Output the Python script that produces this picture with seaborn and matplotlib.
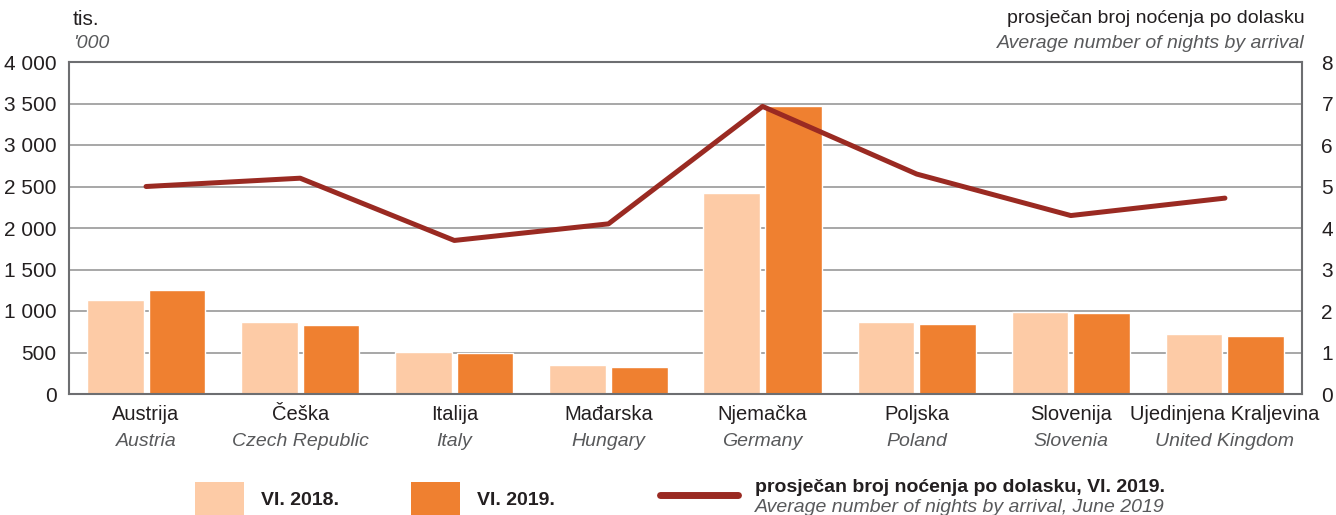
import matplotlib
matplotlib.use('Agg')
import matplotlib.pyplot as plt
import matplotlib.ticker as ticker
import matplotlib.transforms as mtransforms
from matplotlib.patches import Patch
from matplotlib.lines import Line2D
import seaborn as sns
import pandas as pd

countries_hr = ['Austrija', 'Češka', 'Italija', 'Mađarska', 'Njemačka', 'Poljska', 'Slovenija', 'Ujedinjena Kraljevina']
countries_en = ['Austria', 'Czech Republic', 'Italy', 'Hungary', 'Germany', 'Poland', 'Slovenia', 'United Kingdom']
nights_2018 = [1130, 862, 505, 347, 2420, 865, 987, 717]
nights_2019 = [1250, 826, 500, 328, 3475, 840, 975, 702]
avg_nights_2019 = [5.0, 5.2, 3.7, 4.1, 6.93, 5.3, 4.3, 4.72]
periods = ['VI. 2018.', 'VI. 2019.']

light = '#FDCBA6'
dark = '#EF8030'
line_col = '#9A2A22'
text_col = '#231F20'
grey_txt = '#58595B'
fs = 14

sns.set_theme(style='white')
plt.rcParams['font.family'] = ['Liberation Sans', 'DejaVu Sans']

df = pd.DataFrame({
    'country': countries_hr * 2,
    'value': nights_2018 + nights_2019,
    'period': [periods[0]] * len(countries_hr) + [periods[1]] * len(countries_hr),
})
line_df = pd.DataFrame({'country': countries_hr, 'avg': avg_nights_2019})

fig = plt.figure(figsize=(13.36, 5.15), dpi=100)
ax = fig.add_axes([69 / 1336, 1 - 394 / 515, (1302 - 69) / 1336, (394 - 62) / 515])

sns.barplot(data=df, x='country', y='value', hue='period', palette=[light, dark],
            width=0.8, gap=0.08, ax=ax, legend=False, saturation=1)
ax.set_ylim(0, 4000)
ax.set_xlim(-0.5, len(countries_hr) - 0.5)
ax.set_yticks(range(0, 4001, 500))
ax.yaxis.set_major_formatter(ticker.FuncFormatter(lambda v, p: f'{int(v):,}'.replace(',', ' ')))
ax.yaxis.grid(True, color='#A0A0A0', linewidth=1.3)
ax.set_axisbelow(True)
ax.set_xlabel('')
ax.set_ylabel('')
ax.tick_params(axis='y', labelsize=fs + 1, colors=text_col, pad=9, length=0)
ax.tick_params(axis='x', labelsize=fs + 0.5, colors=text_col, pad=8, length=0)
ax.set_xticks(range(len(countries_hr)))
ax.set_xticklabels(countries_hr)
for s in ax.spines.values():
    s.set_color('#6D6E71')
    s.set_linewidth(1.5)

ax2 = ax.twinx()
sns.lineplot(data=line_df, x=line_df.index, y='avg', ax=ax2, color=line_col, linewidth=3.6, sort=False)
ax2.set_ylim(0, 8)
ax2.set_yticks(range(0, 9))
ax2.set_ylabel('')
ax2.tick_params(axis='y', labelsize=fs + 1, colors=text_col, pad=14, length=0)
for s in ax2.spines.values():
    s.set_visible(False)

trans = mtransforms.blended_transform_factory(ax.transData, ax.transAxes)
for i, en in enumerate(countries_en):
    ax.text(i, -0.118, en, transform=trans, ha='center', va='top', fontsize=fs,
            style='italic', color=grey_txt)

fig.text(73 / 1336, 1 - 10 / 515, 'tis.', ha='left', va='top', fontsize=fs + 1, color=text_col)
fig.text(73 / 1336, 1 - 35 / 515, "'000", ha='left', va='top', fontsize=fs, style='italic', color=grey_txt)
fig.text(1305 / 1336, 1 - 10 / 515, 'prosječan broj noćenja po dolasku', ha='right', va='top',
         fontsize=fs, color=text_col)
fig.text(1305 / 1336, 1 - 35 / 515, 'Average number of nights by arrival', ha='right', va='top',
         fontsize=fs, style='italic', color=grey_txt)

# legend
h1 = [Patch(facecolor=light, edgecolor='none'), Patch(facecolor=dark, edgecolor='none')]
leg1 = fig.legend(h1, periods, ncol=2, loc='upper left', bbox_to_anchor=(195 / 1336, 1 - 482 / 515),
                  frameon=False, fontsize=fs, handlelength=2.5, handleheight=2.3,
                  handletextpad=0.9, columnspacing=3.7, borderaxespad=0, borderpad=0)
for t in leg1.get_texts():
    t.set_fontweight('bold')
    t.set_color(text_col)

h2 = [Line2D([0], [0], color=line_col, linewidth=5, solid_capstyle='round')]
leg2 = fig.legend(h2, [''], loc='center left',
                  bbox_to_anchor=(660 / 1336, 1 - 497 / 515), frameon=False, fontsize=fs,
                  handlelength=4.0, handletextpad=0, borderaxespad=0, borderpad=0)
fig.text(755 / 1336, 1 - 487 / 515, 'prosječan broj noćenja po dolasku, VI. 2019.', ha='left', va='center',
         fontsize=fs, fontweight='bold', color=text_col)
fig.text(755 / 1336, 1 - 507 / 515, 'Average number of nights by arrival, June 2019', ha='left', va='center',
         fontsize=fs, style='italic', color=grey_txt)

fig.savefig('out.png', dpi=100)
